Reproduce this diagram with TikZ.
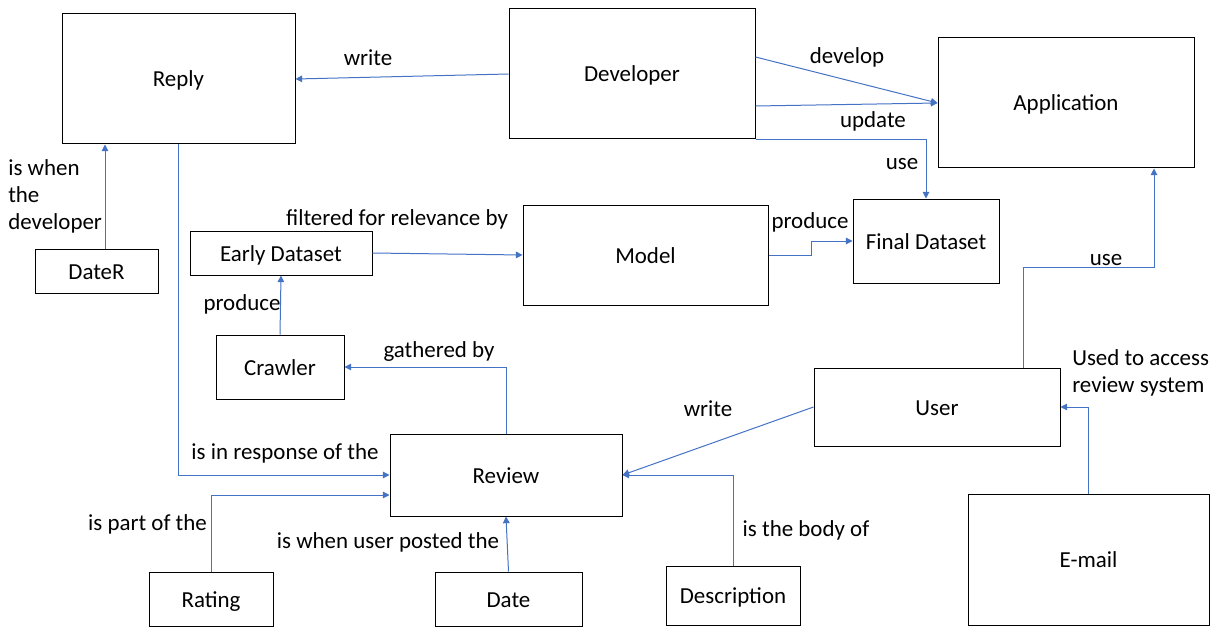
\documentclass[tikz,border=0pt]{standalone}
\usepackage{fontspec}
\setmainfont{Carlito}
\usetikzlibrary{arrows.meta}
\definecolor{conn}{HTML}{4472C4}
\tikzset{
  box/.style={draw=black, line width=0.75pt, fill=white, inner sep=0pt, text height=16.3pt, text depth=4.3pt},
  lbl/.style={inner sep=0pt, align=left, anchor=base},
  link/.style={draw=conn, line width=0.75pt, -{Triangle[length=5pt,width=5pt]}},
}
\newcommand\mybox[7]{\node[box, minimum width=#4*0.75pt, minimum height=#5*0.75pt] (#1) at (#2,#3) {#6};}
\begin{document}
\begin{tikzpicture}[x=0.75pt, y=-0.75pt, font=\fontsize{17.2}{20.25}\selectfont]
\useasboundingbox (0,0) rectangle (1220,638);
% boxes
\mybox{reply}{178.5}{79}{233}{130}{Reply}{}
\mybox{dev}{632}{74}{246}{130}{Developer}{}
\mybox{app}{1066}{103}{256}{130}{Application}{}
\mybox{final}{926}{241}{146}{84}{Final Dataset}{}
\mybox{model}{645.5}{255}{245}{100}{Model}{}
\mybox{early}{281}{253}{182}{44}{Early Dataset}{}
\mybox{dater}{96.5}{271}{123}{44}{DateR}{}
\mybox{crawler}{280}{367}{128}{64}{Crawler}{}
\mybox{review}{506}{475}{232}{82}{Review}{}
\mybox{rating}{211}{599}{124}{54}{Rating}{}
\mybox{date}{508.5}{599}{147}{54}{Date}{}
\mybox{desc}{733}{595.5}{134}{59}{Description}{}
\mybox{user}{937}{407}{246}{78}{User}{}
\mybox{email}{1088.5}{559.5}{241}{131}{E-mail}{}
% connectors
\draw[link] (dev.west) -- (reply.east);
\draw[link] (dev.east |- 0,57) -- (app.west);
\draw[link] (dev.east |- 0,106) -- (app.west);
\draw[link] (dev.south east) -| (final.north);
\draw[link] (model.east) -- ++(43,0) |- (final.west);
\draw[link] (early.east) -- (model.west);
\draw[link] (crawler.north) -- (early.south);
\draw[link] (review.north) |- (crawler.east);
\draw[link] (reply.south) |- (review.west);
\draw[link] (rating.north) |- (review.west |- 0,495);
\draw[link] (date.north) -- (review.south);
\draw[link] (desc.north) |- (review.east);
\draw[link] (user.west) -- (review.east);
\draw[link] (user.north -| 1023,0) -- (1023,267) -| (app.south -| 1154,0);
\draw[link] (email.north) |- (user.east);
\draw[link] (dater.north -| 105,0) -- (reply.south -| 105,0);
% labels
\node[lbl] (l1) at (368,66) {write};
\node[lbl] (l2) at (847,64) {develop};
\node[lbl] (l3) at (873,128) {update};
\node[lbl] (l4) at (902,170) {use};
\node[lbl] (l5) at (810,228) {produce};
\node[lbl] (l6) at (397,225) {filtered for relevance by};
\node[lbl] (l7) at (242,310) {produce};
\node[lbl] (l8) at (439,357) {gathered by};
\node[lbl] (l9) at (285,459) {is in response of the};
\node[lbl] (l10) at (147.5,530) {is part of the};
\node[lbl] (l11) at (388,548) {is when user posted the};
\node[lbl] (l12) at (806,536) {is the body of};
\node[lbl] (l13) at (708,416) {write};
\node[lbl] (l14) at (1106,265) {use};
\node[lbl, anchor=base west] (l15) at (1072,392) {Used to access\\review system};
\node[lbl, anchor=base west] (l16) at (8,229) {is when\\the\\developer};
\end{tikzpicture}
\end{document}
